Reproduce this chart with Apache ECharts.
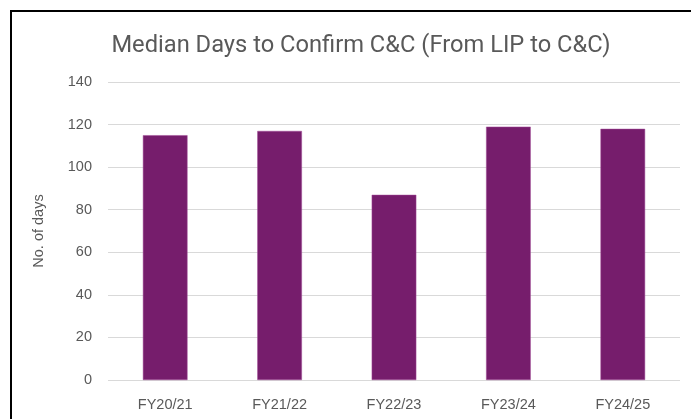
<!DOCTYPE html>
<html>
<head>
<meta charset="utf-8">
<script src="https://cdn.jsdelivr.net/npm/echarts@6/dist/echarts.min.js"></script>
<style>
	html, body { margin: 0; padding: 0; background: #fff; }
	#frame {
		position: absolute; left: 10px; top: 10px; width: 681px; height: 409px;
		border-top: 2px solid #000; border-left: 2px solid #000; box-sizing: border-box;
	}
	#chart { position: absolute; left: 0; top: 0; width: 691px; height: 419px; }
</style>
</head>
<body>
<div id="frame"></div>
<div id="chart"></div>
<script>
	'use strict';

	var categories = ['FY20/21', 'FY21/22', 'FY22/23', 'FY23/24', 'FY24/25'];
	var medianDays = [115, 117, 87, 119, 118];
	var yTicks = [0, 20, 40, 60, 80, 100, 120, 140];

	var option = {
		animation: false,
		title: {
			text: 'Median Days to Confirm C&C (From LIP to C&C)',
			left: 356,
			top: 29,
			textAlign: 'center',
			textStyle: {
				fontFamily: 'Roboto',
				fontSize: 23.7,
				fontWeight: 'normal',
				color: '#595959'
			}
		},
		grid: {
			left: 108,
			right: 11,
			top: 82,
			bottom: 39
		},
		xAxis: {
			type: 'category',
			data: categories,
			axisLine: { show: false },
			axisTick: { show: false },
			axisLabel: {
				fontFamily: 'Liberation Sans',
				fontSize: 14.5,
				color: '#595959',
				margin: 17
			}
		},
		yAxis: {
			type: 'value',
			min: yTicks[0],
			max: yTicks[yTicks.length - 1],
			interval: 20,
			name: 'No. of days',
			nameLocation: 'middle',
			nameGap: 62,
			nameTextStyle: {
				fontFamily: 'Liberation Sans',
				fontSize: 14.5,
				color: '#595959'
			},
			axisLine: { show: false },
			axisTick: { show: false },
			splitLine: {
				lineStyle: { color: '#d9d9d9', width: 1 }
			},
			axisLabel: {
				fontFamily: 'Liberation Sans',
				fontSize: 14.5,
				color: '#595959',
				margin: 16
			}
		},
		series: [{
			name: 'Median days',
			type: 'bar',
			data: medianDays,
			barWidth: '39%',
			itemStyle: {
				color: '#761d6c',
				borderColor: '#a04a96',
				borderWidth: 0.5
			}
		}]
	};

	var chart = echarts.init(document.getElementById('chart'));
	chart.setOption(option);
</script>
</body>
</html>
